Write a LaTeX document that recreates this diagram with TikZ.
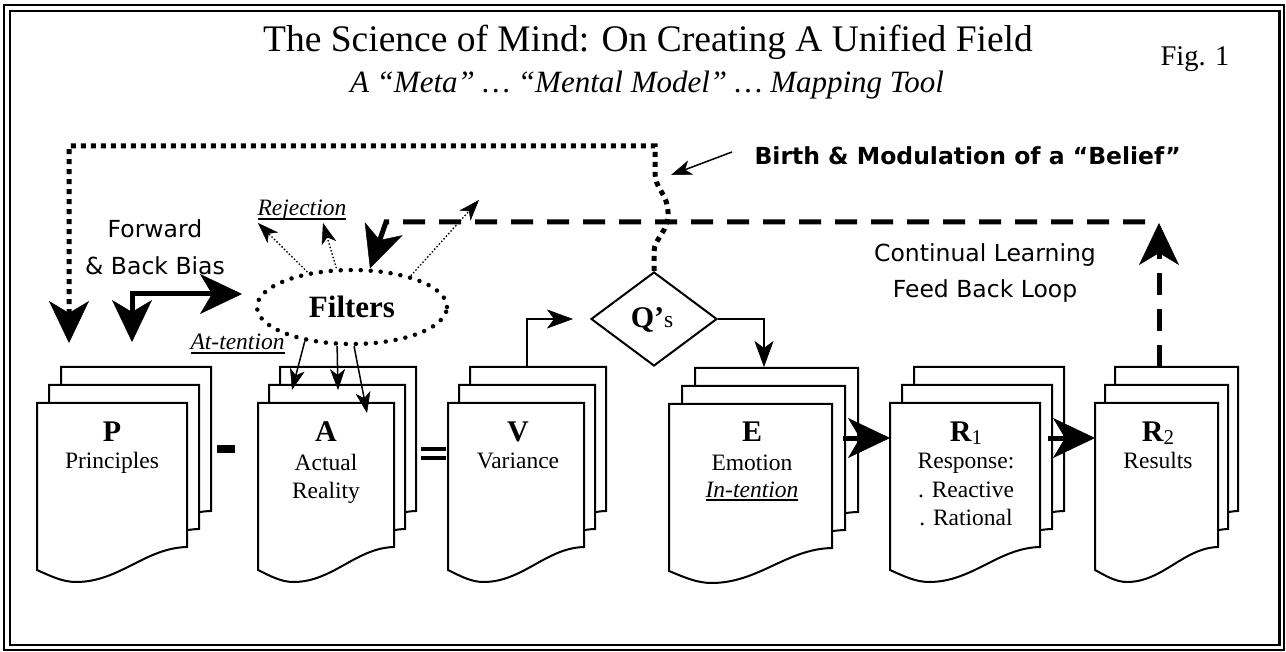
\documentclass[tikz,border=0pt]{standalone}
\usepackage{fontspec}
\setmainfont{Liberation Serif}
\newfontfamily\comicfont{DejaVu Sans}
\usetikzlibrary{arrows.meta,shapes.geometric,calc}

\newcommand\myul[1]{\setbox0=\hbox{#1}\rlap{\rule[-4pt]{\wd0}{1.8pt}}\box0}
\newcommand\bodyfont{\fontsize{23.5}{28}\selectfont}
\newcommand\headfont{\fontsize{30}{32}\selectfont\bfseries}
\newcommand\comicsz{\comicfont\fontsize{23.5}{28}\selectfont}
\newcommand\subone{\fontsize{21}{22}\selectfont}

\newcommand\docshape[3]{%
  \draw[docline] (#1,#2) -- (#1+#3,#2) -- (#1+#3,#2+144)
    .. controls (#1+0.72*#3,#2+145) and (#1+0.55*#3,#2+179) .. (#1+0.26*#3,#2+179)
    .. controls (#1+0.17*#3,#2+179) and (#1+0.09*#3,#2+173) .. (#1,#2+167) -- cycle;}
\newcommand\docstack[5]{%
  \docshape{#2+2*#5}{#3-36}{#4}
  \docshape{#2+#5}{#3-18}{#4}
  \docshape{#2}{#3}{#4}
  \node[inner sep=0pt, minimum width=#4pt, minimum height=144pt, anchor=north west] (#1) at (#2,#3) {};}

\tikzset{
  docline/.style={draw=black, line width=2pt, fill=white, line join=miter},
  BigHead/.tip={Stealth[length=42pt,width=40pt,inset=12pt,line width=0.5pt]},
  MidHead/.tip={Stealth[length=26pt,width=19pt,inset=7pt,line width=0.5pt]},
  SmallHead/.tip={Stealth[length=21pt,width=15pt,inset=6pt,line width=0.5pt]},
  dotloop/.style={line width=5pt, dash pattern=on 5pt off 5pt},
  dashloop/.style={line width=5pt, dash pattern=on 22pt off 14pt},
  heavy/.style={line width=5pt},
  thinarr/.style={line width=1.5pt, -{SmallHead}},
  rejarr/.style={line width=1.3pt, dash pattern=on 1.5pt off 2pt, -{SmallHead}},
  medarr/.style={line width=2pt, -{MidHead}},
  filterstyle/.style={ellipse, draw, line width=4.5pt, dash pattern=on 0pt off 10pt, line cap=round,
    minimum width=190pt, minimum height=74pt, inner sep=0pt, font=\fontsize{31}{33}\selectfont\bfseries},
  doctext/.style={anchor=base, font=\bodyfont},
  dochead/.style={anchor=base, font=\headfont},
  comic/.style={anchor=base, font=\comicsz},
  bar/.style={fill=black, inner sep=0pt},
}

\begin{document}
\begin{tikzpicture}[x=1pt,y=-1pt]
\useasboundingbox (0,0) rectangle (1286,652);
\fill[white] (0,0) rectangle (1286,652);
% frame
\draw[line width=2pt] (4,5) rectangle (1284,650);
\draw[line width=2.5pt] (10,11) rectangle (1279.5,645);

% titles
\node[anchor=base, font=\fontsize{37.5}{40}\selectfont] (title) at (648,52) {The Science of Mind: On Creating A Unified Field};
\node[anchor=base, font=\fontsize{31}{34}\selectfont\itshape] (subtitle) at (647,93) {A “Meta” … “Mental Model” … Mapping Tool};
\node[anchor=base west, font=\fontsize{28.5}{30}\selectfont] (fig) at (1157,66) {Fig. 1};

% documents
\docstack{Pdoc}{37}{403}{150}{12}
\docstack{Adoc}{258}{403}{136}{11}
\docstack{Vdoc}{448}{403}{136}{11}
\docstack{Edoc}{669}{404}{163}{13}
\docstack{Ronedoc}{890}{403}{150}{12}
\docstack{Rtwodoc}{1095}{403}{123}{10}

% document texts
\node[dochead] (Ph) at (112,442) {P};
\node[doctext] (Pt) at (112,468) {Principles};
\node[dochead] (Ah) at (326,442) {A};
\node[doctext] (At1) at (326,470) {Actual};
\node[doctext] (At2) at (326,498) {Reality};
\node[dochead] (Vh) at (518,442) {V};
\node[doctext] (Vt) at (518,468) {Variance};
\node[dochead] (Eh) at (752,442) {E};
\node[doctext] (Et1) at (752,470) {Emotion};
\node[doctext] (Et2) at (752,497) {\myul{\itshape In-tention}};
\node[dochead] (R1h) at (966,442) {R\raisebox{-3pt}{\subone\mdseries 1}};
\node[doctext] (R1t1) at (966,468) {Response:};
\node[doctext] (R1t2) at (966,497) {. Reactive};
\node[doctext] (R1t3) at (966,525) {. Rational};
\node[dochead] (R2h) at (1158,442) {R\raisebox{-3pt}{\subone\mdseries 2}};
\node[doctext] (R2t) at (1158,468) {Results};

% operators
\node[bar, minimum width=18pt, minimum height=8pt] (minus) at (226,449) {};
\node[bar, minimum width=25pt, minimum height=4pt] (eqa) at (433.5,449) {};
\node[bar, minimum width=25pt, minimum height=4pt] (eqb) at (433.5,458) {};

% filters and question diamond
\node[filterstyle] (filters) at (352,307) {Filters};
\node[diamond, draw, line width=2pt, minimum width=126pt, minimum height=94pt, inner sep=0pt] (Q) at (654,319) {};
\node[anchor=base] (qtext) at (652,328) {{\headfont Q’}{\bodyfont s}};

% labels
\node[comic] (fwd1) at (155,238) {Forward};
\node[comic] (fwd2) at (155,275) {\& Back Bias};
\node[anchor=base west, font=\comicsz\bfseries] (birth) at (751,165) {Birth \& Modulation of a “Belief”};
\node[comic] (cl1) at (985,262) {Continual Learning};
\node[comic] (cl2) at (985,298) {Feed Back Loop};
\node[anchor=base west, font=\bodyfont] (rej) at (254,216) {\myul{\itshape Rejection}};
\node[anchor=base west, font=\bodyfont] (att) at (187,350) {\myul{\itshape At-tention}};

% coordinates
\coordinate (pTip) at (69,343);
\coordinate (loopTL) at (69,146);
\coordinate (loopTR) at (655,146);
\coordinate (fbDown) at (132,342);
\coordinate (fbRight) at (242,294);
\coordinate (rt1) at (258,223);
\coordinate (rt2) at (323,223);
\coordinate (rt3) at (479,200);
\coordinate (dashR) at (1145,222);
\coordinate (dashL) at (386,222);
\coordinate (R2top) at (1159,367);
\coordinate (fbTip) at (1159,223);
\coordinate (at1) at (292,390);
\coordinate (at2) at (338,390);
\coordinate (at3) at (367,413);
\coordinate (Vtop) at (527,366);
\coordinate (Etop) at (764,367);
\coordinate (eOut) at (843,438);
\coordinate (rOut) at (1048,438);
\coordinate (bStart) at (732,152);
\coordinate (bTip) at (671,175);

% connectors
\draw[dotloop, -{BigHead}] (Q.north) -- (654,252) .. controls (654,238) and (669,232) .. (668,212)
   .. controls (667,192) and (655,190) .. (655,172) -- (loopTR) -- (loopTL) -- (pTip);
\draw[heavy, {BigHead}-{BigHead}] (fbDown) |- (fbRight);
\draw[rejarr] (filters.142) -- (rt1);
\draw[rejarr] (filters.112) -- (rt2);
\draw[rejarr] (filters.28) -- (rt3);
\draw[dashloop, -{BigHead}] (dashR) -- (dashL) -- (filters.65);
\draw[dashloop, -{BigHead}] (R2top) -- (fbTip);
\draw[thinarr] (filters.-144) -- (at1);
\draw[thinarr] (filters.-111) -- (at2);
\draw[thinarr] (filters.-87) -- (at3);
\draw[medarr, shorten >=17pt] (Vtop) |- (Q.west);
\draw[medarr] (Q.east) -| (Etop);
\draw[heavy, -{BigHead}] (eOut) -- (Ronedoc.west |- eOut);
\draw[heavy, -{BigHead}] (rOut) -- (Rtwodoc.west |- rOut);
\draw[thinarr] (bStart) -- (bTip);
\end{tikzpicture}
\end{document}
